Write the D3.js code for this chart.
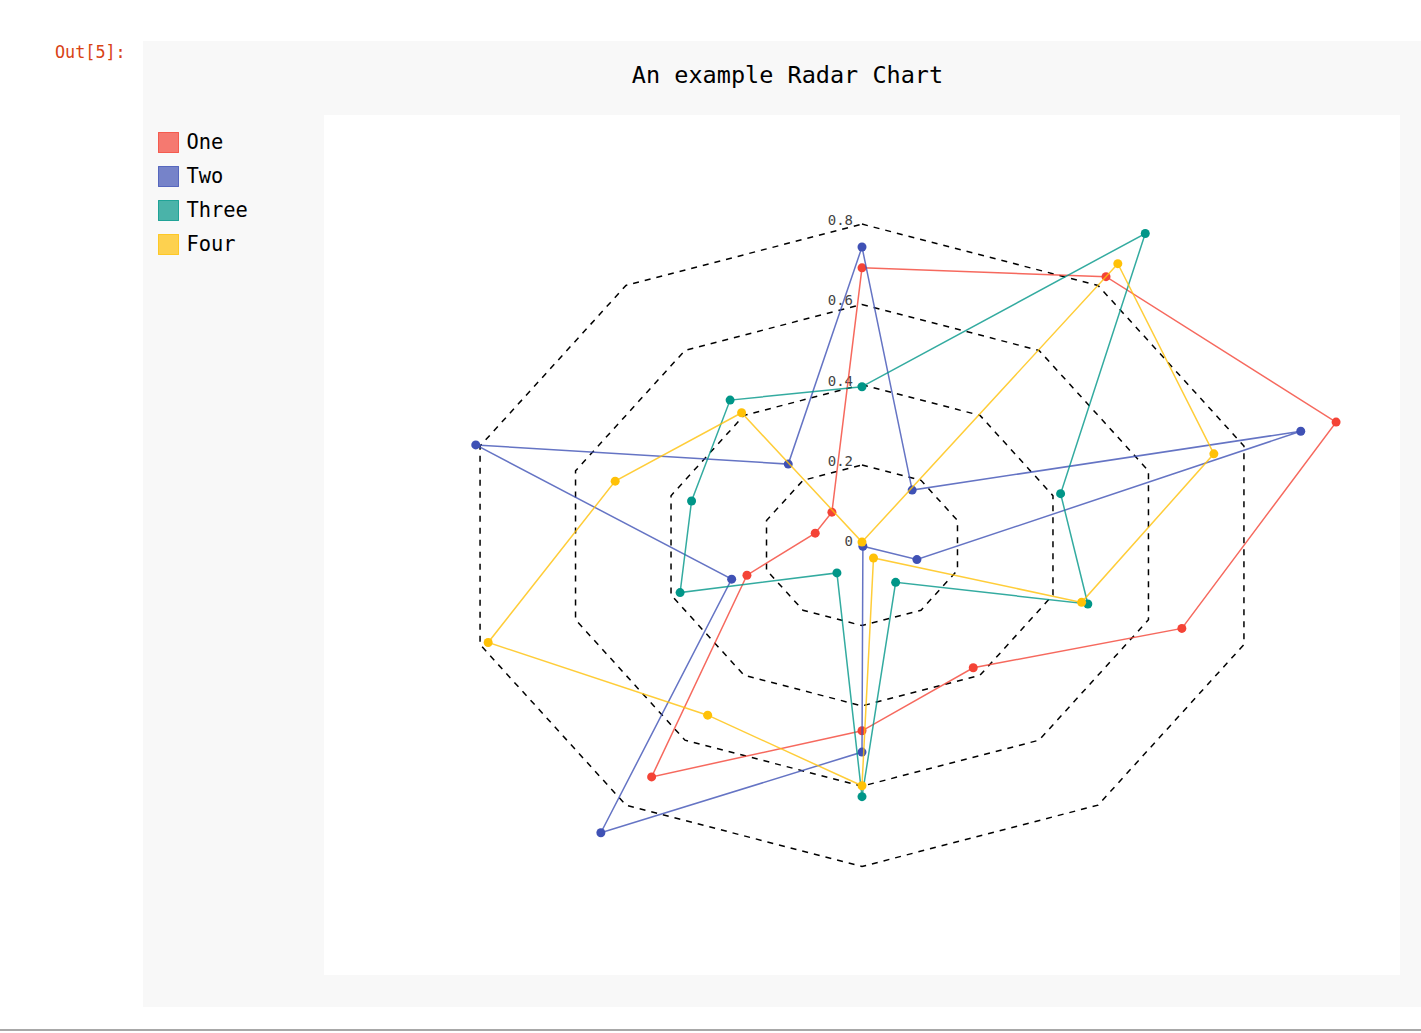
<!DOCTYPE html>
<html>
<head>
<meta charset="utf-8">
<script src="https://cdn.jsdelivr.net/npm/d3@7"></script>
<style>
  body { margin: 0; background: #fff; overflow: hidden; }
  text { font-family: "DejaVu Sans Mono", monospace; }
</style>
</head>
<body>
<script>
// series names and colours (pygal default style)
const seriesNames = ["One", "Two", "Three", "Four"];
const colors = ["#F44336", "#3F51B5", "#009688", "#FFC107"];

// radial guide levels
const levels = [0, 0.2, 0.4, 0.6, 0.8];
const levelLabels = ["0", "0.2", "0.4", "0.6", "0.8"];

// 10 spokes, values read clockwise from the top
const spokes = ["a", "b", "c", "d", "e", "f", "g", "h", "i", "j"];
const one = [0.691, 0.827, 0.993, 0.67, 0.377, 0.462, 0.713, 0.241, 0.098, 0.102];
const two = [0.743, 0.17, 0.919, 0.115, 0.003, 0.515, 0.885, 0.273, 0.809, 0.25];
const three = [0.395, 0.96, 0.416, 0.473, 0.114, 0.626, 0.085, 0.381, 0.357, 0.447];
const four = [0.008, 0.867, 0.737, 0.46, 0.039, 0.599, 0.523, 0.783, 0.517, 0.408];
const allSeries = [one, two, three, four];

// page size
const width = 1421;
const height = 1033;

// plot area inside the grey output cell
const plot = { x0: 324, y0: 115, x1: 1400, y1: 975 };
const cx = (plot.x0 + plot.x1) / 2;
const cy = (plot.y0 + plot.y1) / 2 + 0.3;

const svg = d3
  .select("body")
  .append("svg")
  .attr("width", width)
  .attr("height", height);

// output cell background
svg.append("rect")
  .attr("x", 143).attr("y", 41)
  .attr("width", width - 143).attr("height", 1007 - 41)
  .attr("fill", "#f8f8f8");

svg.append("rect")
  .attr("x", plot.x0).attr("y", plot.y0)
  .attr("width", plot.x1 - plot.x0).attr("height", plot.y1 - plot.y0)
  .attr("fill", "#ffffff");

// bottom separator
svg.append("rect")
  .attr("x", 0).attr("y", 1029)
  .attr("width", width).attr("height", 2)
  .attr("fill", "#a8a8a8");

// prompt
svg.append("text")
  .attr("x", 55).attr("y", 58)
  .attr("font-size", 16.8)
  .attr("fill", "#D84315")
  .text("Out[5]:");

// title
svg.append("text")
  .attr("x", 787.5).attr("y", 83)
  .attr("text-anchor", "middle")
  .attr("font-size", 23.5)
  .attr("fill", "#000")
  .text("An example Radar Chart");

// scales: angle and elliptical radius (x and y stretched separately like pygal)
const angle = d3.scaleLinear().domain([0, spokes.length]).range([0, 2 * Math.PI]);
const rX = d3.scaleLinear().domain([0, 0.8]).range([0, 401.6]);
const rY = d3.scaleLinear().domain([0, 0.8]).range([0, 321.2]);

const px = (v, i) => cx + rX(v) * Math.sin(angle(i));
const py = (v, i) => cy - rY(v) * Math.cos(angle(i));

// dashed level polygons
const ring = d3.line().curve(d3.curveLinearClosed);
const guides = svg.append("g").attr("class", "guides");

guides
  .selectAll("path")
  .data(levels.filter((l) => l > 0))
  .enter()
  .append("path")
  .attr("d", (l) => ring(spokes.map((s, i) => [px(l, i), py(l, i)])))
  .attr("fill", "none")
  .attr("stroke", "#000")
  .attr("stroke-width", 1.5)
  .attr("stroke-dasharray", "6,6");

guides
  .selectAll("text")
  .data(levels)
  .enter()
  .append("text")
  .attr("x", cx - 9)
  .attr("y", (l) => py(l, 0) + 1)
  .attr("text-anchor", "end")
  .attr("font-size", 14)
  .attr("fill", "#444")
  .text((l, i) => levelLabels[i]);

// series
const series = svg
  .selectAll("g.serie")
  .data(allSeries)
  .enter()
  .append("g")
  .attr("class", "serie");

series
  .append("path")
  .attr("d", (d) => ring(d.map((v, i) => [px(v, i), py(v, i)])))
  .attr("fill", "none")
  .attr("stroke", (d, i) => colors[i])
  .attr("stroke-opacity", 0.8)
  .attr("stroke-width", 1.5);

series.each(function (d, k) {
  d3.select(this)
    .selectAll("circle")
    .data(d)
    .enter()
    .append("circle")
    .attr("cx", (v, i) => px(v, i))
    .attr("cy", (v, i) => py(v, i))
    .attr("r", 4.5)
    .attr("fill", colors[k]);
});

// legend
const legend = svg
  .selectAll("g.legend")
  .data(seriesNames)
  .enter()
  .append("g")
  .attr("class", "legend")
  .attr("transform", (d, i) => "translate(158, " + (132 + i * 34) + ")");

legend
  .append("rect")
  .attr("x", 0.5).attr("y", 0.5)
  .attr("width", 20).attr("height", 20)
  .attr("fill", (d, i) => colors[i])
  .attr("fill-opacity", 0.7)
  .attr("stroke", (d, i) => colors[i])
  .attr("stroke-opacity", 0.8)
  .attr("stroke-width", 1);

legend
  .append("text")
  .attr("x", 28.5)
  .attr("y", 16.5)
  .attr("font-size", 20.4)
  .attr("fill", "#000")
  .text((d) => d);
</script>
</body>
</html>
